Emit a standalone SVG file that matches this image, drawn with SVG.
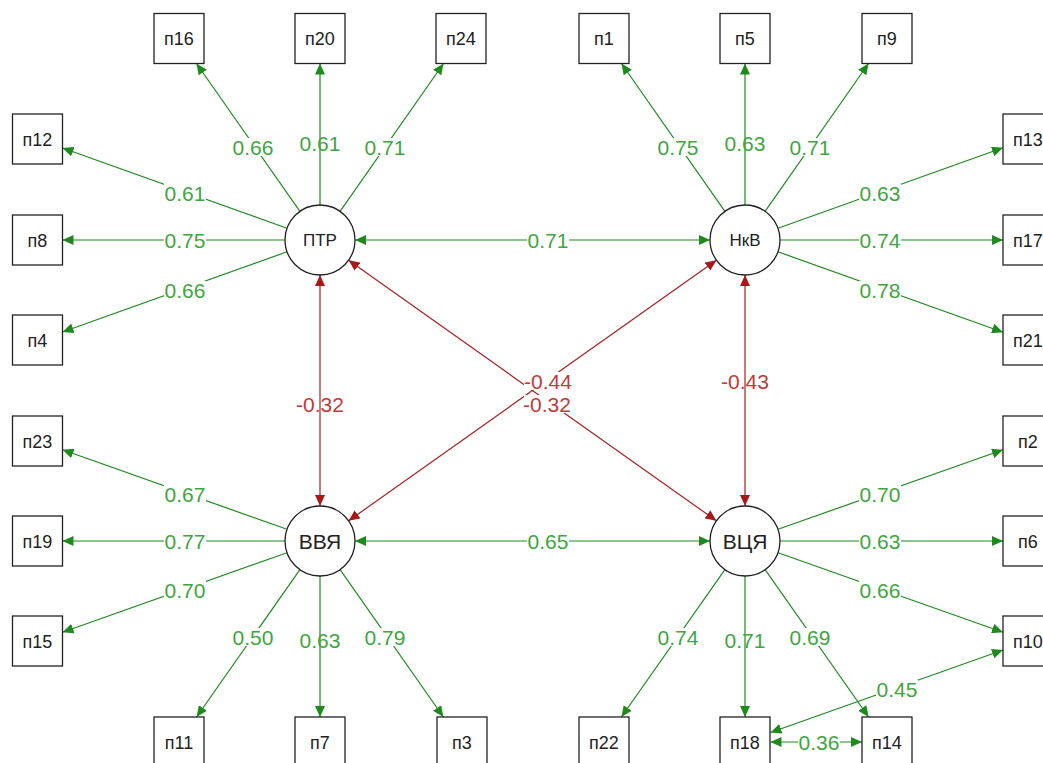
<svg xmlns="http://www.w3.org/2000/svg" width="1043" height="763" viewBox="0 0 1043 763">
<style>
.lat{fill:#fff;stroke:#222;stroke-width:1.3}
.man{fill:#fff;stroke:#222;stroke-width:1.3}
.lt{font-family:"Liberation Sans",Arial,sans-serif;fill:#222;text-anchor:middle}
.mt{font-family:"Liberation Sans",Arial,sans-serif;font-size:18px;fill:#222;text-anchor:middle}
.g{stroke:#1e8a1e;stroke-width:1.2;fill:none;marker-end:url(#ag)}
.gb{stroke:#1e8a1e;stroke-width:1.2;fill:none;marker-end:url(#ag);marker-start:url(#ag)}
.rb{stroke:#a82020;stroke-width:1.2;fill:none;marker-end:url(#ar);marker-start:url(#ar)}
.lg{font-family:"Liberation Sans",Arial,sans-serif;font-size:21px;fill:#3ea63e;text-anchor:middle}
.lr{font-family:"Liberation Sans",Arial,sans-serif;font-size:21px;fill:#c03a3a;text-anchor:middle}
.bg{fill:#fff}
</style>
<defs>
<marker id="ag" viewBox="0 0 11 10" refX="11" refY="5" markerWidth="11" markerHeight="10" markerUnits="userSpaceOnUse" orient="auto-start-reverse"><path d="M0,0 L11,5 L0,10 z" fill="#1e8a1e"/></marker>
<marker id="ar" viewBox="0 0 11 10" refX="11" refY="5" markerWidth="11" markerHeight="10" markerUnits="userSpaceOnUse" orient="auto-start-reverse"><path d="M0,0 L11,5 L0,10 z" fill="#a81818"/></marker>
</defs>
<rect width="1043" height="763" fill="#fff"/>
<g id="connectors">
<!-- ПТР -->
<line class="g" x1="299.9" y1="211.3" x2="196.5" y2="63.5"/>
<line class="g" x1="320" y1="205" x2="320" y2="63.5"/>
<line class="g" x1="340.1" y1="211.3" x2="443.5" y2="63.5"/>
<line class="g" x1="287" y1="228.2" x2="62.5" y2="148"/>
<line class="g" x1="285" y1="240" x2="62.5" y2="240"/>
<line class="g" x1="287" y1="251.8" x2="62.5" y2="332"/>
<!-- НкВ -->
<line class="g" x1="724.9" y1="211.3" x2="621.5" y2="63.5"/>
<line class="g" x1="745" y1="205" x2="745" y2="63.5"/>
<line class="g" x1="765.1" y1="211.3" x2="868.5" y2="63.5"/>
<line class="g" x1="778" y1="228.2" x2="1003" y2="147.8"/>
<line class="g" x1="780" y1="240" x2="1003" y2="240"/>
<line class="g" x1="778" y1="251.8" x2="1003" y2="332.2"/>
<!-- ВВЯ -->
<line class="g" x1="287" y1="529.3" x2="62.5" y2="449.8"/>
<line class="g" x1="285" y1="541" x2="62.5" y2="541"/>
<line class="g" x1="287" y1="552.7" x2="62.5" y2="632.2"/>
<line class="g" x1="299.9" y1="569.7" x2="196.6" y2="717"/>
<line class="g" x1="320" y1="576" x2="320" y2="717"/>
<line class="g" x1="340.1" y1="569.7" x2="443.4" y2="717"/>
<!-- ВЦЯ -->
<line class="g" x1="778" y1="529.3" x2="1003" y2="449.8"/>
<line class="g" x1="780" y1="541" x2="1003" y2="541"/>
<line class="g" x1="778" y1="552.7" x2="1003" y2="632.2"/>
<line class="g" x1="724.9" y1="569.7" x2="621.4" y2="717"/>
<line class="g" x1="745" y1="576" x2="745" y2="717"/>
<line class="g" x1="765.1" y1="569.7" x2="868.6" y2="717"/>
<!-- covariances -->
<line class="gb" x1="355" y1="240" x2="710" y2="240"/>
<line class="gb" x1="355" y1="541" x2="710" y2="541"/>
<line class="rb" x1="320" y1="275" x2="320" y2="506"/>
<line class="rb" x1="745" y1="275" x2="745" y2="506"/>
<line class="rb" x1="348.6" y1="260.2" x2="716.4" y2="520.8"/>
<line class="rb" x1="716.4" y1="260.2" x2="348.6" y2="520.8"/>
<line class="gb" x1="770.5" y1="732.5" x2="1003" y2="650"/>
<line class="gb" x1="770.5" y1="742" x2="862" y2="742"/>
<!-- labels -->
<rect class="bg" x="232" y="138" width="42" height="18"/><text class="lg" x="253" y="154.5">0.66</text>
<text class="lg" x="320" y="150.5">0.61</text>
<rect class="bg" x="364" y="138" width="42" height="18"/><text class="lg" x="385" y="154.5">0.71</text>
<rect class="bg" x="164" y="184" width="42" height="18"/><text class="lg" x="185" y="200.5">0.61</text>
<rect class="bg" x="164" y="231" width="42" height="18"/><text class="lg" x="185" y="247.5">0.75</text>
<rect class="bg" x="164" y="281" width="42" height="18"/><text class="lg" x="185" y="297.5">0.66</text>
<rect class="bg" x="657" y="138" width="42" height="18"/><text class="lg" x="678" y="154.5">0.75</text>
<text class="lg" x="745" y="150.5">0.63</text>
<rect class="bg" x="789" y="138" width="42" height="18"/><text class="lg" x="810" y="154.5">0.71</text>
<rect class="bg" x="859" y="184" width="42" height="18"/><text class="lg" x="880" y="200.5">0.63</text>
<rect class="bg" x="859" y="231" width="42" height="18"/><text class="lg" x="880" y="247.5">0.74</text>
<rect class="bg" x="859" y="281" width="42" height="18"/><text class="lg" x="880" y="297.5">0.78</text>
<rect class="bg" x="164" y="485" width="42" height="18"/><text class="lg" x="185" y="501.5">0.67</text>
<rect class="bg" x="164" y="532" width="42" height="18"/><text class="lg" x="185" y="548.5">0.77</text>
<rect class="bg" x="164" y="581" width="42" height="18"/><text class="lg" x="185" y="597.5">0.70</text>
<rect class="bg" x="232" y="628" width="42" height="18"/><text class="lg" x="253" y="644.5">0.50</text>
<text class="lg" x="320" y="647.5">0.63</text>
<rect class="bg" x="364" y="628" width="42" height="18"/><text class="lg" x="385" y="644.5">0.79</text>
<rect class="bg" x="859" y="485" width="42" height="18"/><text class="lg" x="880" y="501.5">0.70</text>
<rect class="bg" x="859" y="532" width="42" height="18"/><text class="lg" x="880" y="548.5">0.63</text>
<rect class="bg" x="859" y="581" width="42" height="18"/><text class="lg" x="880" y="597.5">0.66</text>
<rect class="bg" x="657" y="628" width="42" height="18"/><text class="lg" x="678" y="644.5">0.74</text>
<text class="lg" x="745" y="647.5">0.71</text>
<rect class="bg" x="789" y="628" width="42" height="18"/><text class="lg" x="810" y="644.5">0.69</text>
<rect class="bg" x="527" y="231" width="42" height="18"/><text class="lg" x="548" y="247.5">0.71</text>
<rect class="bg" x="527" y="532" width="42" height="18"/><text class="lg" x="548" y="548.5">0.65</text>
<text class="lr" x="320" y="411.5">-0.32</text>
<text class="lr" x="745" y="388.5">-0.43</text>
<rect class="bg" x="524" y="372" width="48" height="18"/><text class="lr" x="548" y="388.5">-0.44</text>
<rect class="bg" x="524" y="395" width="48" height="18"/><text class="lr" x="547" y="411.5">-0.32</text>
<rect class="bg" x="876" y="680" width="42" height="18"/><text class="lg" x="897" y="696.5">0.45</text>
<rect class="bg" x="798" y="733" width="42" height="18"/><text class="lg" x="819" y="749.5">0.36</text>
</g>
<g id="ПТР"><circle class="lat" cx="320" cy="240" r="35"/><text class="lt" x="320" y="246" font-size="17">ПТР</text></g>
<g id="НкВ"><circle class="lat" cx="745" cy="240" r="35"/><text class="lt" x="745" y="246" font-size="17">НкВ</text></g>
<g id="ВВЯ"><circle class="lat" cx="320" cy="541" r="35"/><text class="lt" x="320" y="548.5" font-size="21">ВВЯ</text></g>
<g id="ВЦЯ"><circle class="lat" cx="745" cy="541" r="35"/><text class="lt" x="745" y="548.5" font-size="21">ВЦЯ</text></g>
<g id="n16"><rect class="man" x="154" y="13.5" width="50" height="50"/><text class="mt" x="179" y="45">п16</text></g>
<g id="n20"><rect class="man" x="295" y="13.5" width="50" height="50"/><text class="mt" x="320" y="45">п20</text></g>
<g id="n24"><rect class="man" x="436" y="13.5" width="50" height="50"/><text class="mt" x="461" y="45">п24</text></g>
<g id="n1"><rect class="man" x="579" y="13.5" width="50" height="50"/><text class="mt" x="604" y="45">п1</text></g>
<g id="n5"><rect class="man" x="720" y="13.5" width="50" height="50"/><text class="mt" x="745" y="45">п5</text></g>
<g id="n9"><rect class="man" x="862" y="13.5" width="50" height="50"/><text class="mt" x="887" y="45">п9</text></g>
<g id="n12"><rect class="man" x="12.5" y="114" width="50" height="50"/><text class="mt" x="37.5" y="145.5">п12</text></g>
<g id="n8"><rect class="man" x="12.5" y="215" width="50" height="50"/><text class="mt" x="37.5" y="246.5">п8</text></g>
<g id="n4"><rect class="man" x="12.5" y="315" width="50" height="50"/><text class="mt" x="37.5" y="346.5">п4</text></g>
<g id="n23"><rect class="man" x="12.5" y="416" width="50" height="50"/><text class="mt" x="37.5" y="447.5">п23</text></g>
<g id="n19"><rect class="man" x="12.5" y="516" width="50" height="50"/><text class="mt" x="37.5" y="547.5">п19</text></g>
<g id="n15"><rect class="man" x="12.5" y="616" width="50" height="50"/><text class="mt" x="37.5" y="647.5">п15</text></g>
<g id="n13"><rect class="man" x="1003" y="114" width="50" height="50"/><text class="mt" x="1028" y="145.5">п13</text></g>
<g id="n17"><rect class="man" x="1003" y="215" width="50" height="50"/><text class="mt" x="1028" y="246.5">п17</text></g>
<g id="n21"><rect class="man" x="1003" y="315" width="50" height="50"/><text class="mt" x="1028" y="346.5">п21</text></g>
<g id="n2"><rect class="man" x="1003" y="416" width="50" height="50"/><text class="mt" x="1028" y="447.5">п2</text></g>
<g id="n6"><rect class="man" x="1003" y="516" width="50" height="50"/><text class="mt" x="1028" y="547.5">п6</text></g>
<g id="n10"><rect class="man" x="1003" y="616" width="50" height="50"/><text class="mt" x="1028" y="647.5">п10</text></g>
<g id="n11"><rect class="man" x="154" y="717" width="50" height="50"/><text class="mt" x="179" y="748.5">п11</text></g>
<g id="n7"><rect class="man" x="295" y="717" width="50" height="50"/><text class="mt" x="320" y="748.5">п7</text></g>
<g id="n3"><rect class="man" x="437" y="717" width="50" height="50"/><text class="mt" x="462" y="748.5">п3</text></g>
<g id="n22"><rect class="man" x="579" y="717" width="50" height="50"/><text class="mt" x="604" y="748.5">п22</text></g>
<g id="n18"><rect class="man" x="720" y="717" width="50" height="50"/><text class="mt" x="745" y="748.5">п18</text></g>
<g id="n14"><rect class="man" x="862" y="717" width="50" height="50"/><text class="mt" x="887" y="748.5">п14</text></g>
</svg>
